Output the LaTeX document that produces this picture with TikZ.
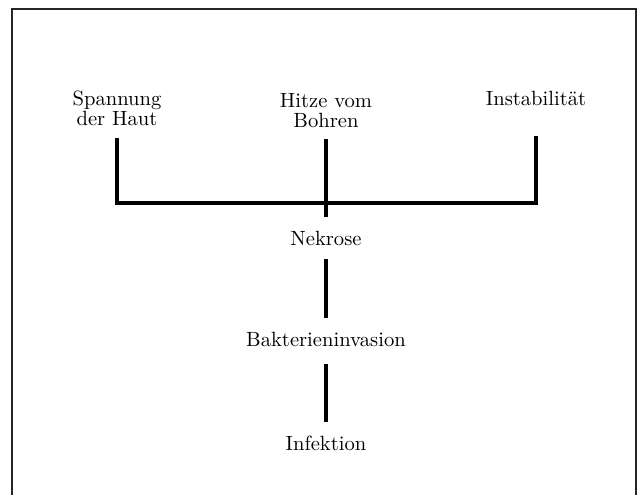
\documentclass[tikz,border=0pt]{standalone}
\usetikzlibrary{positioning}

\begin{document}
\begin{tikzpicture}[x=0.5pt,y=-0.5pt,inner sep=0pt,line width=2pt,
font=\fontsize{10.3pt}{10pt}\selectfont,
cause/.style={anchor=north,align=center,outer sep=6pt},
stage/.style={outer sep=6.75pt}]

\useasboundingbox (0,0) rectangle (644,495);

\draw (117,79) node[cause] (haut) {Spannung\\der Haut};
\draw (326,81) node[cause] (hitze) {Hitze vom\\Bohren};
\draw (536,79) node[cause] (instab) {Instabilit\"at};
\draw (326,238) node[stage] (nekrose) {Nekrose};
\draw (326,339) node[stage] (bakt) {Bakterieninvasion};
\draw (326,443) node[stage] (infekt) {Infektion};
\coordinate (join) at (326,202.5);

\draw (haut) |- (join);
\draw[shorten <=9.25pt] (instab) |- (join);
\draw (hitze) -- (nekrose);
\draw (nekrose) -- (bakt);
\draw[shorten <=2.25pt] (bakt) -- (infekt);

\draw[line width=1pt,black!85] (11.5,495) |- (636,9) -- (636,495);

\end{tikzpicture}
\end{document}
